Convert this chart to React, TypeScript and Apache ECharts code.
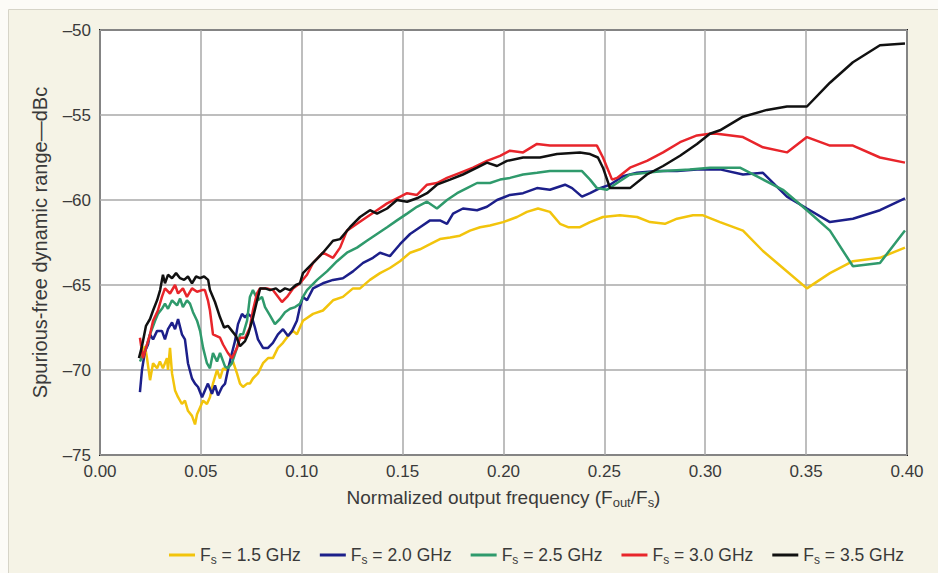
import React, { useEffect, useRef } from "react";
import * as echarts from "echarts";

const seriesNames = ["1.5", "2.0", "2.5", "3.0", "3.5"];
const seriesColors = ["#f2c40c", "#1c1f8a", "#2f9a6c", "#e8252b", "#111111"];

const xTicks = [0, 0.05, 0.1, 0.15, 0.2, 0.25, 0.3, 0.35, 0.4];
const yTicks = [-75, -70, -65, -60, -55, -50];

// Fs = 1.5 GHz
const f15 = [0.0198, 0.0223, 0.0233, 0.0248, 0.0263, 0.0283, 0.0297, 0.0312, 0.0332, 0.0337, 0.0347, 0.0357, 0.0372, 0.0387, 0.0406, 0.0421, 0.0436, 0.0456, 0.0471, 0.0481, 0.0496, 0.0511, 0.053, 0.0545, 0.056, 0.058, 0.0595, 0.061, 0.0629, 0.0644, 0.0659, 0.0679, 0.0694, 0.0709, 0.0729, 0.0743, 0.0758, 0.0783, 0.0808, 0.0833, 0.0857, 0.0882, 0.0907, 0.0932, 0.0957, 0.0976, 0.1006, 0.1056, 0.1105, 0.1155, 0.1204, 0.1254, 0.1289, 0.1338, 0.1388, 0.1437, 0.1487, 0.1537, 0.1586, 0.1636, 0.1685, 0.1735, 0.1784, 0.1834, 0.1884, 0.1933, 0.1998, 0.2067, 0.2116, 0.2171, 0.223, 0.228, 0.232, 0.2379, 0.2429, 0.2493, 0.2577, 0.2662, 0.2726, 0.28, 0.286, 0.2939, 0.2989, 0.3073, 0.3187, 0.3286, 0.3385, 0.3504, 0.3618, 0.3732, 0.3866, 0.399];
const v15 = [-69.3, -68.6, -69.3, -70.6, -69.6, -69.9, -69.5, -69.9, -69.3, -70.0, -68.7, -70.2, -71.2, -71.6, -72.0, -71.8, -72.4, -72.7, -73.2, -72.6, -72.2, -71.8, -72.0, -71.6, -70.8, -70.0, -70.5, -69.9, -70.0, -69.6, -69.5, -70.2, -70.8, -71.0, -70.8, -70.8, -70.5, -70.2, -69.6, -69.3, -69.3, -68.7, -68.4, -68.0, -67.7, -67.9, -67.1, -66.7, -66.5, -65.9, -65.7, -65.2, -65.2, -64.7, -64.3, -64.0, -63.6, -63.1, -62.9, -62.6, -62.3, -62.2, -62.1, -61.8, -61.6, -61.5, -61.3, -61.0, -60.7, -60.5, -60.7, -61.4, -61.6, -61.6, -61.3, -61.0, -60.9, -61.0, -61.3, -61.4, -61.1, -60.9, -60.9, -61.3, -61.8, -63.0, -64.0, -65.2, -64.3, -63.6, -63.4, -62.8];

// Fs = 2.0 GHz
const f20 = [0.0198, 0.0208, 0.0223, 0.0238, 0.0248, 0.0263, 0.0283, 0.0307, 0.0322, 0.0337, 0.0357, 0.0372, 0.0387, 0.0406, 0.0421, 0.0436, 0.0456, 0.0471, 0.0486, 0.0506, 0.052, 0.0535, 0.0555, 0.057, 0.0585, 0.0605, 0.062, 0.0634, 0.0654, 0.0669, 0.0684, 0.0704, 0.0719, 0.0734, 0.0753, 0.0768, 0.0783, 0.0808, 0.0833, 0.0857, 0.0882, 0.0907, 0.0932, 0.0952, 0.0976, 0.0991, 0.1006, 0.1026, 0.1056, 0.1105, 0.1155, 0.1204, 0.1254, 0.1304, 0.1353, 0.1388, 0.1437, 0.1487, 0.1537, 0.1586, 0.1636, 0.1685, 0.172, 0.175, 0.1799, 0.1869, 0.1918, 0.1968, 0.2032, 0.2097, 0.2166, 0.223, 0.2305, 0.234, 0.2389, 0.2429, 0.2478, 0.2528, 0.2592, 0.2662, 0.2761, 0.286, 0.2959, 0.3073, 0.3187, 0.3286, 0.3405, 0.3504, 0.3618, 0.3732, 0.3866, 0.399];
const v20 = [-71.3, -70.0, -68.9, -68.5, -67.9, -68.2, -67.7, -67.7, -68.2, -67.6, -67.2, -67.6, -67.0, -67.9, -68.2, -69.6, -70.5, -70.8, -71.0, -71.6, -71.2, -70.8, -71.4, -70.9, -71.5, -71.0, -70.8, -70.0, -69.0, -68.3, -67.3, -66.7, -66.9, -66.7, -66.9, -67.5, -68.2, -68.7, -68.7, -68.4, -67.9, -67.6, -68.0, -67.7, -67.1, -66.3, -65.7, -65.9, -65.2, -64.9, -64.7, -64.6, -64.2, -63.7, -63.4, -63.1, -63.3, -62.6, -62.0, -61.6, -61.2, -61.2, -61.4, -60.8, -60.5, -60.6, -60.4, -60.0, -59.7, -59.6, -59.3, -59.4, -59.1, -59.3, -59.8, -59.6, -59.3, -59.1, -58.6, -58.4, -58.3, -58.3, -58.2, -58.2, -58.5, -58.4, -59.8, -60.5, -61.3, -61.1, -60.6, -59.9];

// Fs = 2.5 GHz
const f25 = [0.0198, 0.0223, 0.0248, 0.0273, 0.0287, 0.0307, 0.0322, 0.0337, 0.0357, 0.0382, 0.0397, 0.0411, 0.0431, 0.0446, 0.0461, 0.0481, 0.0496, 0.0511, 0.053, 0.0545, 0.056, 0.058, 0.0595, 0.062, 0.0634, 0.0654, 0.0679, 0.0694, 0.0709, 0.0729, 0.0743, 0.0758, 0.0783, 0.0803, 0.0818, 0.0843, 0.0867, 0.0892, 0.0917, 0.0942, 0.0967, 0.0991, 0.1006, 0.1026, 0.1076, 0.1125, 0.1175, 0.1224, 0.1274, 0.1323, 0.1373, 0.1423, 0.1472, 0.1522, 0.1571, 0.1621, 0.167, 0.172, 0.177, 0.1819, 0.1869, 0.1933, 0.1983, 0.2032, 0.2097, 0.2166, 0.223, 0.2315, 0.2389, 0.2429, 0.2463, 0.2513, 0.2563, 0.2627, 0.2711, 0.2791, 0.2924, 0.3023, 0.3172, 0.3271, 0.3385, 0.3504, 0.3618, 0.3732, 0.3866, 0.399];
const v25 = [-69.5, -68.9, -67.9, -67.1, -66.7, -66.4, -66.1, -66.4, -65.9, -66.2, -65.8, -66.3, -65.9, -66.1, -66.6, -67.1, -67.7, -68.7, -69.6, -69.9, -69.0, -69.5, -69.0, -69.8, -69.9, -69.6, -68.7, -67.9, -67.9, -67.1, -65.7, -65.3, -65.9, -65.7, -66.3, -66.8, -67.3, -67.0, -66.6, -66.4, -66.3, -66.1, -65.7, -65.3, -64.7, -64.2, -63.6, -63.1, -62.8, -62.4, -62.0, -61.6, -61.2, -60.8, -60.4, -60.1, -60.5, -60.0, -59.6, -59.3, -59.0, -59.0, -58.8, -58.7, -58.5, -58.4, -58.3, -58.3, -58.3, -58.8, -59.3, -59.4, -59.0, -58.5, -58.4, -58.3, -58.2, -58.1, -58.1, -58.7, -59.4, -60.6, -61.8, -63.9, -63.7, -61.8];

// Fs = 3.0 GHz
const f30 = [0.0198, 0.0213, 0.0233, 0.0248, 0.0263, 0.0287, 0.0307, 0.0322, 0.0347, 0.0372, 0.0387, 0.0411, 0.0431, 0.0456, 0.0481, 0.0506, 0.052, 0.0535, 0.0545, 0.056, 0.0595, 0.061, 0.0634, 0.0654, 0.0679, 0.0694, 0.0719, 0.0743, 0.0758, 0.0778, 0.0793, 0.0828, 0.0857, 0.0902, 0.0927, 0.0957, 0.0991, 0.1026, 0.1056, 0.1105, 0.1155, 0.119, 0.1224, 0.1274, 0.1323, 0.1373, 0.1423, 0.1472, 0.1522, 0.1571, 0.1621, 0.167, 0.172, 0.1784, 0.1849, 0.1918, 0.1983, 0.2032, 0.2097, 0.2166, 0.223, 0.2315, 0.2394, 0.2463, 0.2493, 0.2538, 0.2563, 0.2627, 0.2711, 0.2791, 0.2875, 0.2959, 0.3023, 0.3058, 0.3187, 0.3286, 0.3405, 0.3504, 0.3618, 0.3732, 0.3866, 0.399];
const v30 = [-68.1, -69.3, -68.5, -67.9, -67.1, -66.5, -65.7, -65.2, -65.5, -65.0, -65.5, -65.2, -65.7, -65.2, -65.4, -65.3, -65.3, -65.9, -66.5, -67.9, -68.1, -68.5, -69.0, -69.3, -68.7, -68.1, -68.1, -67.5, -66.5, -65.5, -65.2, -65.2, -65.3, -66.0, -65.7, -65.2, -64.9, -64.4, -63.7, -63.1, -63.4, -62.8, -61.8, -61.4, -61.0, -60.6, -60.2, -59.9, -59.6, -59.7, -59.1, -59.0, -58.7, -58.4, -58.1, -57.7, -57.4, -57.1, -57.2, -56.7, -56.8, -56.8, -56.8, -56.8, -57.5, -58.8, -58.7, -58.1, -57.7, -57.2, -56.6, -56.2, -56.1, -56.1, -56.3, -56.9, -57.2, -56.3, -56.8, -56.8, -57.5, -57.8];

// Fs = 3.5 GHz
const f35 = [0.0193, 0.0208, 0.0228, 0.0248, 0.0263, 0.0283, 0.0298, 0.0312, 0.0322, 0.0337, 0.0357, 0.0377, 0.0397, 0.0417, 0.0436, 0.0456, 0.0476, 0.0496, 0.0516, 0.0536, 0.0545, 0.057, 0.0595, 0.0615, 0.0634, 0.0654, 0.0674, 0.0694, 0.0719, 0.0734, 0.0759, 0.0779, 0.0794, 0.0818, 0.0843, 0.0872, 0.0892, 0.0917, 0.0942, 0.0971, 0.0991, 0.1006, 0.1056, 0.1105, 0.1155, 0.119, 0.1239, 0.1289, 0.1338, 0.1373, 0.1423, 0.1472, 0.1522, 0.1571, 0.1621, 0.167, 0.1735, 0.1799, 0.1869, 0.1918, 0.1968, 0.2017, 0.2097, 0.2181, 0.2265, 0.2379, 0.2429, 0.2468, 0.2493, 0.2528, 0.2563, 0.2627, 0.2711, 0.2791, 0.2875, 0.2959, 0.3023, 0.3073, 0.3187, 0.3306, 0.3405, 0.3504, 0.3618, 0.3732, 0.3866, 0.399];
const v35 = [-69.3, -68.6, -67.4, -67.0, -66.5, -65.9, -65.3, -64.4, -64.9, -64.4, -64.6, -64.3, -64.6, -64.7, -64.5, -64.9, -64.5, -64.6, -64.5, -64.7, -65.3, -66.0, -66.9, -67.5, -67.4, -67.7, -68.0, -68.6, -68.3, -67.9, -66.9, -65.9, -65.2, -65.2, -65.3, -65.2, -65.4, -65.2, -65.3, -65.0, -64.9, -64.3, -63.7, -63.1, -62.4, -62.3, -61.6, -61.0, -60.6, -60.8, -60.5, -60.0, -60.1, -59.9, -59.6, -59.1, -58.8, -58.5, -58.1, -57.8, -58.0, -57.7, -57.5, -57.5, -57.3, -57.2, -57.3, -57.5, -58.1, -59.3, -59.3, -59.3, -58.5, -58.0, -57.4, -56.7, -56.1, -55.9, -55.1, -54.7, -54.5, -54.5, -53.1, -51.9, -50.9, -50.8];

const allF = [f15, f20, f25, f30, f35];
const allV = [v15, v20, v25, v30, v35];

const FONT = "'Liberation Sans', Arial, Helvetica, sans-serif";
const TXT = "#3a3a3a";

export default function App() {
  const ref = useRef<HTMLDivElement>(null);
  useEffect(() => {
    if (!ref.current) return;
    const chart = echarts.init(ref.current, undefined, { renderer: "svg" });
    const series = seriesNames.map((name, i) => ({
      name,
      type: "line",
      symbol: "none",
      data: allF[i].map((f, j) => [f, allV[i][j]]),
      lineStyle: { color: seriesColors[i], width: 2.5 },
      itemStyle: { color: seriesColors[i] },
      z: 3 + i,
    }));
    chart.setOption({
      animation: false,
      backgroundColor: "#fcfbf7",
      textStyle: { fontFamily: FONT },
      graphic: [
        {
          type: "rect",
          shape: { x: 8.5, y: 9.5, width: 940, height: 580 },
          style: { fill: "#f5f3e6", stroke: "#d6d4c8", lineWidth: 1 },
          z: -10,
        },
      ],
      grid: {
        left: 100,
        top: 30,
        right: 31,
        bottom: 118,
        show: true,
        backgroundColor: "#ffffff",
        borderColor: "#1a1a1a",
        borderWidth: 2,
        containLabel: false,
      },
      xAxis: {
        type: "value",
        min: xTicks[0],
        max: xTicks[xTicks.length - 1],
        interval: 0.05,
        axisLine: { show: false },
        axisTick: { show: false },
        splitLine: { show: true, lineStyle: { color: "#a8a8a8", width: 1.5 } },
        axisLabel: {
          color: TXT,
          fontSize: 17,
          fontFamily: FONT,
          margin: 8,
          formatter: (v: number) => v.toFixed(2),
        },
        name: "Normalized output frequency (F{sub|out}/F{sub|s})",
        nameLocation: "middle",
        nameGap: 31,
        nameTextStyle: {
          color: TXT,
          fontSize: 19,
          fontFamily: FONT,
          rich: {
            sub: { fontSize: 13, color: TXT, fontFamily: FONT, verticalAlign: "bottom", padding: [10, 0, 0, 0] },
          },
        },
      },
      yAxis: {
        type: "value",
        min: yTicks[0],
        max: yTicks[yTicks.length - 1],
        interval: 5,
        axisLine: { show: false },
        axisTick: { show: false },
        splitLine: { show: true, lineStyle: { color: "#a8a8a8", width: 1.5 } },
        axisLabel: {
          color: TXT,
          fontSize: 17,
          fontFamily: FONT,
          margin: 9,
          formatter: (v: number) => (v < 0 ? "\u2013" + Math.abs(v) : String(v)),
        },
        name: "Spurious-free dynamic range\u2014dBc",
        nameLocation: "middle",
        nameGap: 50,
        nameTextStyle: { color: TXT, fontSize: 20, fontFamily: FONT },
      },
      legend: {
        left: 164,
        top: 541,
        itemWidth: 26,
        itemHeight: 14,
        itemGap: 19,
        data: seriesNames.map((n, i) => ({
          name: n,
          icon: "path://M0,6 L26,6 L26,9 L0,9 Z",
          itemStyle: { color: seriesColors[i] },
        })),
        formatter: (n: string) => `{a|F}{s|s}{a| = ${n} GHz}`,
        textStyle: {
          color: TXT,
          fontFamily: FONT,
          fontSize: 17.5,
          rich: {
            a: { fontSize: 17.5, color: TXT, fontFamily: FONT },
            s: { fontSize: 12, color: TXT, fontFamily: FONT, verticalAlign: "bottom", padding: [9, 0, 0, 0] },
          },
        },
      },
      series,
    });
    return () => chart.dispose();
  }, []);
  return (
    <div
      ref={ref}
      style={{ position: "absolute", left: 0, top: 0, width: 938, height: 573 }}
    />
  );
}
